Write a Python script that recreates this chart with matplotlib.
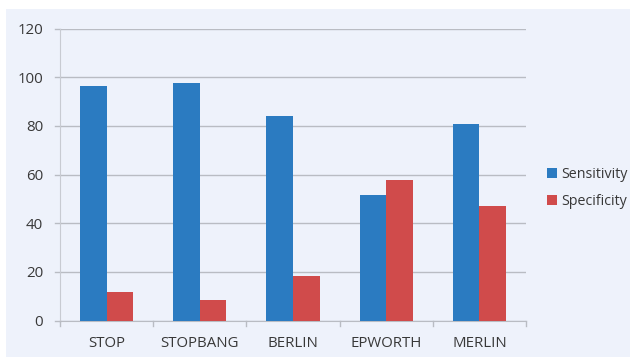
import matplotlib
matplotlib.use("Agg")
import matplotlib.pyplot as plt
import numpy as np
from matplotlib.patches import Rectangle

categories = ["STOP", "STOPBANG", "BERLIN", "EPWORTH", "MERLIN"]
sensitivity = [96.4, 97.6, 84.2, 51.6, 80.8]
specificity = [11.8, 8.4, 18.3, 57.7, 47.2]
y_ticks = [0, 20, 40, 60, 80, 100, 120]

plt.rcParams["font.family"] = ["Open Sans", "DejaVu Sans"]

W, H = 630, 357
fig = plt.figure(figsize=(W / 100, H / 100), dpi=100)
fig.patch.set_facecolor("white")
bg = "#eef2fb"
fig.patches.append(Rectangle((6 / W, 0), 1 - 6 / W, 1 - 9 / H,
                             transform=fig.transFigure, facecolor=bg,
                             edgecolor="none", zorder=-10))

ax = fig.add_axes([60 / W, (H - 320.5) / H, 466 / W, 292 / H])
ax.set_facecolor(bg)

x = np.arange(len(categories))
bw = 0.285
blue = "#2b7bc1"
red = "#d04b4b"
ax.bar(x - bw / 2, sensitivity, bw, color=blue, label="Sensitivity", zorder=3)
ax.bar(x + bw / 2, specificity, bw, color=red, label="Specificity", zorder=3)

ax.set_xlim(-0.5, len(categories) - 0.5)
ax.set_ylim(0, 120)
ax.set_yticks(y_ticks)
ax.tick_params(axis="y", length=0, pad=12, labelsize=10.8, labelcolor="#383838")
ax.grid(axis="y", color="#b9bcc3", linewidth=1.0, zorder=1)
for yv in y_ticks:
    ax.plot([-0.555, -0.5], [yv, yv], color="#b9bcc3", linewidth=1.0,
            clip_on=False, zorder=1)

ax.set_xticks(x)
ax.set_xticklabels(categories)
ax.tick_params(axis="x", length=0, pad=11, labelsize=10.8, labelcolor="#383838")
for b in np.arange(len(categories) + 1) - 0.5:
    ax.plot([b, b], [0, -2.2], color="#b9bcc3", linewidth=1.0,
            clip_on=False, zorder=1)

for s in ["top", "right"]:
    ax.spines[s].set_visible(False)
ax.spines["left"].set_color("#c8cbd2")
ax.spines["bottom"].set_color("#b9bcc3")

leg = fig.legend(loc="upper left", bbox_to_anchor=(534 / W, 1 - 154 / H),
                 frameon=False, handlelength=0.7, handleheight=0.7,
                 handletextpad=0.3, labelspacing=0.85, fontsize=10.3)
for t in leg.get_texts():
    t.set_color("#383838")

fig.savefig("out.png", dpi=100, facecolor="white")
